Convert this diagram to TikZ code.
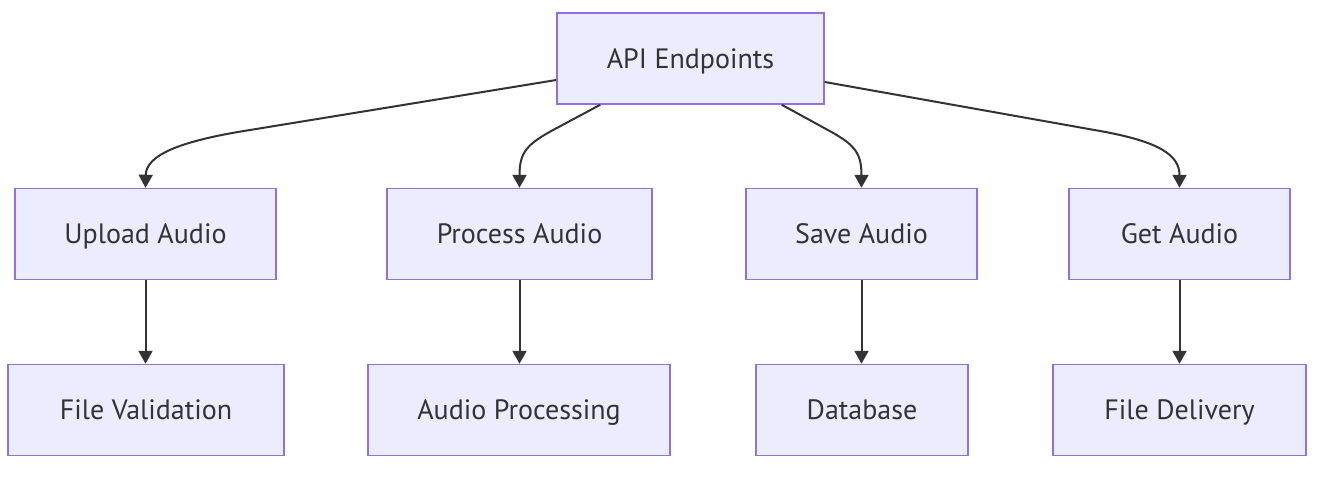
\documentclass[tikz,border=0pt]{standalone}
\usepackage{fontspec}
\setmainfont{PT Sans}
\usetikzlibrary{arrows.meta,calc}
\definecolor{boxfill}{HTML}{ECECFF}
\definecolor{boxline}{HTML}{9370DB}
\definecolor{ink}{HTML}{333333}
\begin{document}
\begin{tikzpicture}[x=1pt,y=-1pt,
  box/.style={draw=boxline,fill=boxfill,line width=1.5pt,inner sep=0pt,
    minimum height=91pt,text=ink,text height=19.6pt,text depth=0pt,
    font=\fontsize{28}{32}\selectfont},
  conn/.style={draw=ink,line width=2pt,-{Triangle[length=13pt,width=14pt]}}]
\useasboundingbox (0,0) rectangle (1317,493);
\node[box,minimum width=267pt] (api) at (690.5,58.5) {API Endpoints};
\node[box,minimum width=261pt] (up) at (145.5,234) {Upload Audio};
\node[box,minimum width=265pt] (pr) at (519.5,234) {Process Audio};
\node[box,minimum width=231pt] (sv) at (861.5,234) {Save Audio};
\node[box,minimum width=221pt] (gt) at (1179.5,234) {Get Audio};
\node[box,minimum width=276pt] (fv) at (146,410) {File Validation};
\node[box,minimum width=302pt] (ap) at (519,410) {Audio Processing};
\node[box,minimum width=212pt] (db) at (862,410) {Database};
\node[box,minimum width=253pt] (fd) at (1179.5,410) {File Delivery};
\draw[conn] ($(api.west)+(0,21.5)$) -- (250,130) .. controls (180,141) and (146,155) .. (up.north);
\draw[conn] ($(api.south west)+(44,0)$) -- (555,129) .. controls (527,144) and (519.5,152) .. (pr.north);
\draw[conn] ($(api.south east)+(-43,0)$) -- (826,129) .. controls (854,144) and (861.5,152) .. (sv.north);
\draw[conn] ($(api.east)+(0,23.5)$) -- (1100,131) .. controls (1159,141.5) and (1179.5,155) .. (gt.north);
\draw[conn] (up.south) -- (up.south |- fv.north);
\draw[conn] (pr.south) -- (pr.south |- ap.north);
\draw[conn] (sv.south) -- (sv.south |- db.north);
\draw[conn] (gt.south) -- (gt.south |- fd.north);
\end{tikzpicture}
\end{document}
